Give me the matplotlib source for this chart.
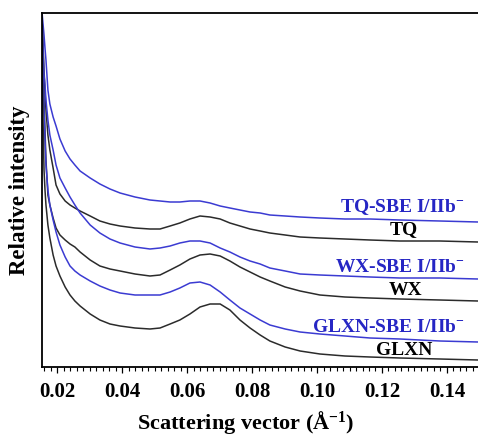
import numpy as np, matplotlib
matplotlib.use('Agg')
import matplotlib.pyplot as plt
from matplotlib.ticker import MultipleLocator, FormatStrFormatter

plt.rcParams.update({'font.family': 'Liberation Serif', 'font.weight': 'bold',
                     'mathtext.fontset': 'custom', 'mathtext.rm': 'Liberation Serif:bold',
                     'mathtext.bf': 'Liberation Serif:bold', 'mathtext.it': 'Liberation Serif:bold'})

# scattering vector (1/A), shared by all curves
q = [0.0154, 0.0157, 0.0160, 0.0163, 0.0166, 0.0172, 0.0178, 0.0188, 0.0197, 0.0209,
     0.0225, 0.0240, 0.0255, 0.0271, 0.0302, 0.0332, 0.0363, 0.0394, 0.0440, 0.0486,
     0.0517, 0.0548, 0.0578, 0.0609, 0.0640, 0.0671, 0.0702, 0.0732, 0.0763, 0.0794,
     0.0825, 0.0855, 0.0902, 0.0948, 0.1009, 0.1086, 0.1163, 0.1255, 0.1378, 0.1495]

# relative intensity (arbitrary units, curves offset)
tq_sbe = [354, 343, 332, 319, 307, 277, 263, 250, 241, 228, 216, 208, 202, 196, 189, 183, 178, 174, 170, 167,
          166, 165, 165, 166, 166, 164, 161, 159, 157, 155, 154, 152, 151, 150, 149, 148, 148, 147, 146, 145]
tq = [349, 322, 297, 277, 257, 232, 217, 199, 182, 173, 166, 162, 159, 156, 151, 146, 143, 141, 139, 138,
      138, 141, 144, 148, 151, 150, 148, 144, 141, 138, 136, 134, 132, 130, 129, 128, 127, 126, 126, 125]
wx_sbe = [347, 317, 292, 282, 267, 247, 232, 217, 202, 189, 179, 170, 162, 154, 142, 134, 128, 124, 120, 118,
          119, 121, 124, 126, 126, 124, 119, 115, 110, 106, 103, 99, 96, 93, 92, 91, 90, 89, 89, 88]
wx = [342, 297, 267, 237, 207, 172, 162, 149, 139, 132, 127, 123, 120, 115, 107, 101, 98, 96, 93, 91,
      92, 97, 102, 108, 112, 113, 111, 106, 100, 95, 90, 86, 80, 76, 72, 70, 69, 68, 67, 66]
glxn_sbe = [337, 297, 257, 227, 202, 177, 162, 147, 135, 122, 110, 101, 96, 92, 86, 81, 77, 74, 72, 72,
            72, 75, 79, 84, 85, 82, 75, 67, 59, 53, 47, 42, 38, 35, 33, 31, 29, 28, 26, 25]
glxn = [327, 247, 197, 177, 162, 142, 129, 112, 101, 91, 80, 72, 66, 61, 53, 47, 43, 41, 39, 38,
        39, 43, 47, 53, 60, 63, 63, 57, 47, 39, 32, 26, 20, 16, 13, 11, 10, 9, 8, 7]

BLUE = '#3b3bd2'
BLACK = '#2b2b2b'
TXT_BLUE = '#2626c4'

fig = plt.figure(figsize=(4.78, 4.36), dpi=100)
ax = fig.add_axes([42/478, 69/436, 436/478, 354/436])

for y, c in [(tq_sbe, BLUE), (tq, BLACK), (wx_sbe, BLUE), (wx, BLACK), (glxn_sbe, BLUE), (glxn, BLACK)]:
    ax.plot(q, y, color=c, lw=1.1, solid_joinstyle='round')

ax.set_xlim(0.01538, 0.14954)
ax.set_ylim(0, 354)
ax.spines['right'].set_visible(False)
for s in ['left', 'top', 'bottom']:
    ax.spines[s].set_linewidth(1.3)
ax.set_yticks([])
ax.xaxis.set_major_locator(MultipleLocator(0.02))
ax.xaxis.set_minor_locator(MultipleLocator(0.002))
ax.xaxis.set_major_formatter(FormatStrFormatter('%.2f'))
ax.tick_params(axis='x', which='major', direction='out', length=4.5, width=0.9, pad=6, labelsize=15)
ax.tick_params(axis='x', which='minor', direction='out', length=3, width=0.8)

fs = 14
ax.text(0.1455, 160, r'TQ-SBE I/IIb$^{-}$', color=TXT_BLUE, fontsize=fs, ha='right', va='center')
ax.text(0.1268, 137, 'TQ', color='black', fontsize=fs, ha='center', va='center')
ax.text(0.1455, 100, r'WX-SBE I/IIb$^{-}$', color=TXT_BLUE, fontsize=fs, ha='right', va='center')
ax.text(0.1271, 77, 'WX', color='black', fontsize=fs, ha='center', va='center')
ax.text(0.1455, 40, r'GLXN-SBE I/IIb$^{-}$', color=TXT_BLUE, fontsize=fs, ha='right', va='center')
ax.text(0.1268, 17, 'GLXN', color='black', fontsize=fs, ha='center', va='center')

fig.text(20/478, 1 - 190/436, 'Relative intensity', rotation=90, ha='center', va='center', fontsize=16.5)
fig.text(246/478, 1 - 422/436, r'Scattering vector (Å$^{-1}$)', ha='center', va='center', fontsize=16)

fig.savefig('out.png', dpi=100)
